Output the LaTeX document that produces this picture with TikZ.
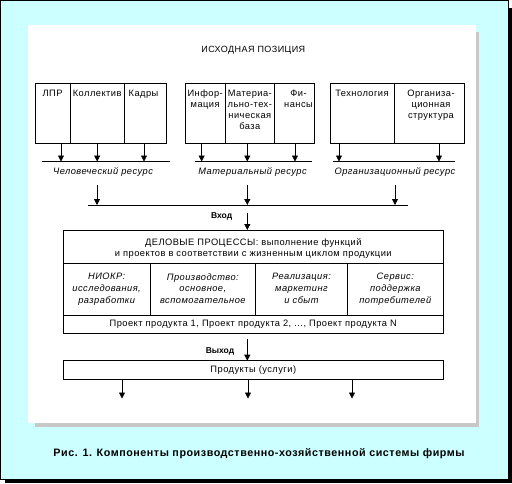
\documentclass[tikz,border=0pt]{standalone}
\usepackage{fontspec}
\setmainfont{Liberation Sans}
\newfontfamily\wf[LetterSpace=5]{Liberation Sans}
\usetikzlibrary{arrows.meta}
\definecolor{bgcyan}{HTML}{CCFFFF}
\definecolor{shgrey}{HTML}{C8C8C8}
\begin{document}
\begin{tikzpicture}[x=1pt,y=-1pt,
  cell/.style={draw, line width=0.8pt, inner sep=0pt, outer sep=0pt, anchor=north west},
  txt/.style={font=\wf\fontsize{9.3}{11}\selectfont, align=center, inner sep=0pt, anchor=north},
  itx/.style={font=\wf\fontsize{9.3}{11.7}\selectfont\itshape, align=center, inner sep=0pt, anchor=north},
  lbl/.style={font=\wf\fontsize{9.3}{11}\selectfont, inner sep=0pt},
  ilbl/.style={font=\wf\fontsize{9.3}{11}\selectfont\itshape, inner sep=0pt},
  bld/.style={font=\fontsize{8.5}{11}\selectfont\bfseries, inner sep=0pt},
  arr/.style={line width=0.8pt, -{Triangle[width=6pt,length=6pt]}},
  ln/.style={line width=0.8pt}]
\useasboundingbox (0,0) rectangle (512,483);
% frame
\fill[black] (5,8) rectangle (512,483);
\draw[fill=bgcyan, line width=1pt] (0.5,0.5) rectangle (508,479);
\fill[shgrey] (35,32) rectangle (479,427);
\fill[white] (28,25) rectangle (476,423);
% title
\node[lbl, font=\wf\fontsize{9}{11}\selectfont] (title) at (253.3,50) {ИСХОДНАЯ ПОЗИЦИЯ};
% box 1
\node[cell, minimum width=35pt, minimum height=59.7pt] (a1) at (35,83.3) {};
\node[cell, minimum width=54.3pt, minimum height=59.7pt] (a2) at (70,83.3) {};
\node[cell, minimum width=42.4pt, minimum height=59.7pt] (a3) at (124.3,83.3) {};
\node[txt] (ta1) at ([yshift=-6.5pt]a1.north) {ЛПР};
\node[txt] (ta2) at ([yshift=-6.5pt]a2.north) {Коллектив};
\node[txt] (ta3) at ([yshift=-6.5pt,xshift=-2pt]a3.north) {Кадры};
% box 2
\node[cell, minimum width=40.3pt, minimum height=59.7pt] (b1) at (185,83.3) {};
\node[cell, minimum width=49pt, minimum height=59.7pt] (b2) at (225.3,83.3) {};
\node[cell, minimum width=40.4pt, minimum height=59.7pt] (b3) at (274.3,83.3) {};
\node[txt] (tb1) at ([yshift=-6.5pt]b1.north) {Инфор-\\мация};
\node[txt] (tb2) at ([yshift=-6.5pt]b2.north) {Материа-\\льно-тех-\\ническая\\база};
\node[txt] (tb3) at ([yshift=-6.5pt,xshift=4pt]b3.north) {Фи-\\нансы};
% box 3
\node[cell, minimum width=64pt, minimum height=59.7pt] (c1) at (330,83.3) {};
\node[cell, minimum width=70pt, minimum height=59.7pt] (c2) at (394,83.3) {};
\node[txt] (tc1) at ([yshift=-6.5pt]c1.north) {Технология};
\node[txt] (tc2) at ([yshift=-6.5pt,xshift=2pt]c2.north) {Организа-\\ционная\\структура};
% resource lines
\coordinate (r1w) at (42,161.5); \coordinate (r1e) at (170,161.5);
\coordinate (r2w) at (195,161.5); \coordinate (r2e) at (312,161.5);
\coordinate (r3w) at (333,161.5); \coordinate (r3e) at (455,161.5);
\draw[ln] (r1w) -- (r1e);
\draw[ln] (r2w) -- (r2e);
\draw[ln] (r3w) -- (r3e);
\draw[arr] ([xshift=8.5pt]a1.south) -- ([xshift=8.5pt]a1.south |- r1w);
\draw[arr] (a2.south) -- (a2.south |- r1w);
\draw[arr] ([xshift=-1.5pt]a3.south) -- ([xshift=-1.5pt]a3.south |- r1w);
\draw[arr] ([xshift=-3.5pt]b1.south) -- ([xshift=-3.5pt]b1.south |- r2w);
\draw[arr] ([xshift=-2.5pt]b2.south) -- ([xshift=-2.5pt]b2.south |- r2w);
\draw[arr] ([xshift=0.5pt]b3.south) -- ([xshift=0.5pt]b3.south |- r2w);
\draw[arr] ([xshift=-23pt]c1.south) -- ([xshift=-23pt]c1.south |- r3w);
\draw[arr] ([xshift=10pt]c2.south) -- ([xshift=10pt]c2.south |- r3w);
\node[ilbl] (rl1) at (103,172.5) {Человеческий ресурс};
\node[ilbl] (rl2) at (252.5,172.5) {Материальный ресурс};
\node[ilbl] (rl3) at (395,172.5) {Организационный ресурс};
% long line
\coordinate (Lw) at (88.3,205); \coordinate (Le) at (408.3,205);
\draw[ln] (Lw) -- (Le);
\coordinate (v1) at (97,185); \coordinate (v2) at (247.3,185); \coordinate (v3) at (395,185);
\draw[arr] (v1) -- (v1 |- Lw);
\draw[arr] (v2) -- (v2 |- Lw);
\draw[arr] (v3) -- (v3 |- Lw);
% input
\node[bld] (vhod) at (221.7,216) {Вход};
\node[cell, minimum width=380pt, minimum height=33.3pt] (hdr) at (63.3,230) {};
\node[txt] (thdr) at ([yshift=-8pt]hdr.north) {ДЕЛОВЫЕ ПРОЦЕССЫ: выполнение функций\\и проектов в соответствии с жизненным циклом продукции};
\coordinate (inA) at (247.3,212.7);
\draw[arr] (inA) -- (inA |- hdr.north);
% process columns
\node[cell, minimum width=86.7pt, minimum height=51.7pt] (p1) at (63.3,263.3) {};
\node[cell, minimum width=105.7pt, minimum height=51.7pt] (p2) at (150,263.3) {};
\node[cell, minimum width=91.6pt, minimum height=51.7pt] (p3) at (255.7,263.3) {};
\node[cell, minimum width=96pt, minimum height=51.7pt] (p4) at (347.3,263.3) {};
\node[itx] (tp1) at ([yshift=-10pt]p1.north) {НИОКР:\\исследования,\\разработки};
\node[itx] (tp2) at ([yshift=-10pt]p2.north) {Производство:\\основное,\\вспомогательное};
\node[itx] (tp3) at ([yshift=-10pt]p3.north) {Реализация:\\маркетинг\\и сбыт};
\node[itx] (tp4) at ([yshift=-10pt]p4.north) {Сервис:\\поддержка\\потребителей};
\node[cell, minimum width=380pt, minimum height=18.3pt] (proj) at (63.3,315) {};
\node[lbl] (tproj) at (proj.center) {Проект продукта 1, Проект продукта 2, ..., Проект продукта N};
% output
\node[bld] (vyhod) at (220,351) {Выход};
\coordinate (outA) at (247.3,339.3);
\node[cell, minimum width=380pt, minimum height=18.6pt] (prod) at (63.3,360.7) {};
\node[lbl] (tprod) at (prod.center) {Продукты (услуги)};
\draw[arr] (outA) -- (outA |- prod.north);
\coordinate (bot) at (0,398.5);
\draw[arr] ([xshift=-131.3pt]prod.south) -- ([xshift=-131.3pt]prod.south |- bot);
\draw[arr] ([xshift=-5.3pt]prod.south) -- ([xshift=-5.3pt]prod.south |- bot);
\draw[arr] ([xshift=98.7pt]prod.south) -- ([xshift=98.7pt]prod.south |- bot);
% caption
\node[inner sep=0pt, font=\wf\fontsize{10.75}{12}\selectfont\bfseries] (cap) at (259,454) {Рис. 1. Компоненты производственно-хозяйственной системы фирмы};
\end{tikzpicture}
\end{document}
